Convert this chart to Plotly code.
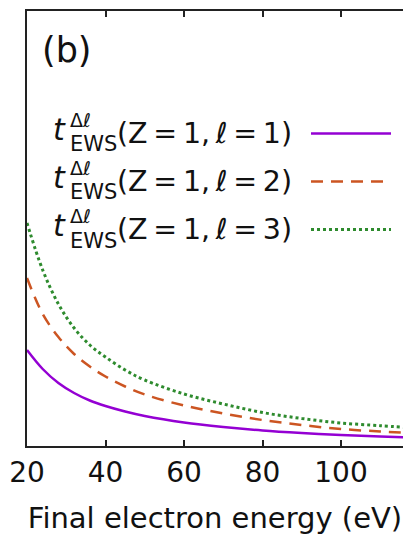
import plotly.graph_objects as go

# ---- data (arbitrary y units) ----
energy = [20, 24, 28, 32, 36, 40, 45, 50, 60, 70, 80, 90, 100, 110, 116]
t_l1 = [96, 77, 63, 53, 45.5, 40, 34.5, 30, 23.5, 19, 15.5, 13, 11, 9.5, 8.7]
t_l2 = [168, 132, 109, 92, 79.5, 69.5, 59.5, 51.5, 40.5, 32.5, 26, 21, 17, 14.5, 13.3]
t_l3 = [223, 176, 142, 118, 101, 89, 76, 66, 52, 42, 33.5, 27.5, 23, 20.3, 18.7]
labels_l = ["1", "2", "3"]
tick_vals = [20, 40, 60, 80, 100]

colors = ["#9400D3", "#CC5522", "#2E8B2E"]
dashes = ["solid", "12px,8px", "3px,3px"]
widths = [2.5, 2.5, 3]

W, H = 403, 535
L, R, T = 27, 0, 11
B = H - 446
FONT = "DejaVu Sans"

fig = go.Figure()
for ys, c, d, w, l in zip([t_l1, t_l2, t_l3], colors, dashes, widths, labels_l):
    fig.add_trace(go.Scatter(
        x=energy, y=ys, mode="lines",
        line=dict(color=c, dash=d, width=w, shape="spline", smoothing=1.0),
        name=f"t_EWS(Z=1, l={l})", showlegend=False))

pw = W - L - R
ph = H - T - B


# helpers: window pixel -> paper coordinates
def px(xp):
    return (xp - L) / pw


def py(yp):
    return (H - B - yp) / ph


# manual legend (text on left, sample line on right, like the original)
row_y = [133.5, 181.5, 229.5]
for i, (yy, c, d, w, l) in enumerate(zip(row_y, colors, dashes, widths, labels_l)):
    fig.add_shape(type="line", xref="paper", yref="paper",
                  x0=px(311), x1=px(391), y0=py(yy), y1=py(yy),
                  line=dict(color=c, dash=d, width=w))
    fig.add_annotation(xref="paper", yref="paper", x=px(51), y=py(yy - 4),
                       xanchor="left", yanchor="middle", showarrow=False,
                       text="<i>t</i>", font=dict(family=FONT, size=30, color="#111"))
    fig.add_annotation(xref="paper", yref="paper", x=px(68), y=py(yy - 14),
                       xanchor="left", yanchor="middle", showarrow=False,
                       text="Δℓ", font=dict(family=FONT, size=19, color="#111"))
    fig.add_annotation(xref="paper", yref="paper", x=px(68), y=py(yy + 11),
                       xanchor="left", yanchor="middle", showarrow=False,
                       text="EWS", font=dict(family=FONT, size=21, color="#111"))
    fig.add_annotation(xref="paper", yref="paper", x=px(115), y=py(yy),
                       xanchor="left", yanchor="middle", showarrow=False,
                       text=f"(Z\u2009=\u20091,\u2009ℓ\u2009=\u2009{l})",
                       font=dict(family=FONT, size=28.5, color="#111"))

fig.add_annotation(xref="paper", yref="paper", x=px(40), y=py(50),
                   xanchor="left", yanchor="middle", showarrow=False,
                   text="(b)", font=dict(family=FONT, size=35, color="#111"))

fig.update_layout(
    width=W, height=H,
    margin=dict(l=L, r=R, t=T, b=B, autoexpand=False),
    paper_bgcolor="white", plot_bgcolor="white",
    font=dict(family=FONT, size=28, color="#111"),
    showlegend=False,
)
fig.update_xaxes(
    range=[20, 20 + pw / 3.925], tickvals=tick_vals,
    ticks="inside", ticklen=6, tickwidth=1.5, tickcolor="#222",
    showline=True, linecolor="#222", linewidth=2, mirror="ticks",
    showgrid=False, zeroline=False, automargin=False,
    tickfont=dict(family=FONT, size=28, color="#111"),
    title=dict(text="Final electron energy (eV)", standoff=23,
               font=dict(family=FONT, size=29, color="#111")),
)
fig.update_yaxes(
    range=[0, ph], showticklabels=False, ticks="",
    showline=True, linecolor="#222", linewidth=2, mirror=False,
    showgrid=False, zeroline=False, automargin=False,
)

fig.write_html(
    "out.html",
    config={"displayModeBar": False},
    post_script="document.body.style.margin='0';document.body.style.overflow='hidden';",
)
